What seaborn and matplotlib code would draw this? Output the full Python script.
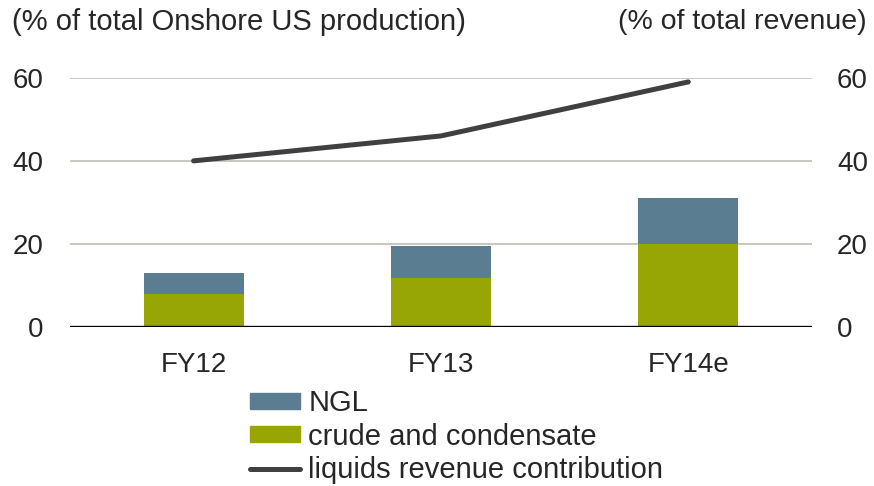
import matplotlib
matplotlib.use("Agg")
import matplotlib.pyplot as plt
import seaborn as sns
import numpy as np
from matplotlib.patches import Patch
from matplotlib.lines import Line2D

years = ["FY12", "FY13", "FY14e"]
crude = [8.0, 11.8, 20.0]
ngl = [4.9, 7.6, 11.0]
revenue = [40, 46, 59]
yticks = [0, 20, 40, 60]

ngl_col = "#5a7d92"
crude_col = "#98a605"
line_col = "#404040"

sns.set_style("white")
plt.rcParams["font.family"] = ["Liberation Sans", "DejaVu Sans"]

total = np.array(crude) + np.array(ngl)

fig = plt.figure(figsize=(8.74, 4.86), dpi=100)
ax = fig.add_axes([0.080, 0.327, 0.849, 0.513])

# stacked bars: full height in NGL colour, crude drawn over it
sns.barplot(x=years, y=total, color=ngl_col, width=0.405, saturation=1,
            linewidth=0, ax=ax)
sns.barplot(x=years, y=crude, color=crude_col, width=0.405, saturation=1,
            linewidth=0, ax=ax)

ax2 = ax.twinx()
sns.pointplot(x=years, y=revenue, color=line_col, marker="", linewidth=3.6,
              errorbar=None, ax=ax2)

for a in (ax, ax2):
    a.set_ylim(0, 60)
    a.set_yticks(yticks)
    a.set_xlim(-0.5, 2.5)
    a.set_xlabel("")
    a.set_ylabel("")
    for s in a.spines.values():
        s.set_visible(False)
    a.tick_params(length=0, labelsize=20)

ax.grid(False)
ax2.grid(False)
for v in yticks[1:]:
    ax.axhline(v, color="#bfbfb5", lw=1.2, zorder=0)
ax.axhline(0, color="black", lw=2.4, zorder=3)
ax.set_axisbelow(True)
ax.tick_params(axis="y", pad=19)
ax2.tick_params(axis="y", pad=18)
ax.tick_params(axis="x", pad=18)
ax2.tick_params(axis="x", labelbottom=False)
ax.set_xticks(range(len(years)))
ax.set_xticklabels(years)

fig.text(0.014, 0.955, "(% of total Onshore US production)", fontsize=21,
         ha="left", va="center")
fig.text(0.991, 0.955, "(% of total revenue)", fontsize=20.5,
         ha="right", va="center")

handles = [
    Patch(color=ngl_col, label="NGL"),
    Patch(color=crude_col, label="crude and condensate"),
    Line2D([], [], color=line_col, lw=3.6, solid_capstyle="round",
           label="liquids revenue contribution"),
]
fig.legend(handles=handles, loc="upper left", bbox_to_anchor=(0.286, 0.199),
           frameon=False, fontsize=21, handlelength=1.72, handleheight=0.45,
           handletextpad=0.28, labelspacing=0.18, borderpad=0, borderaxespad=0)

fig.savefig("out.png", dpi=100)
